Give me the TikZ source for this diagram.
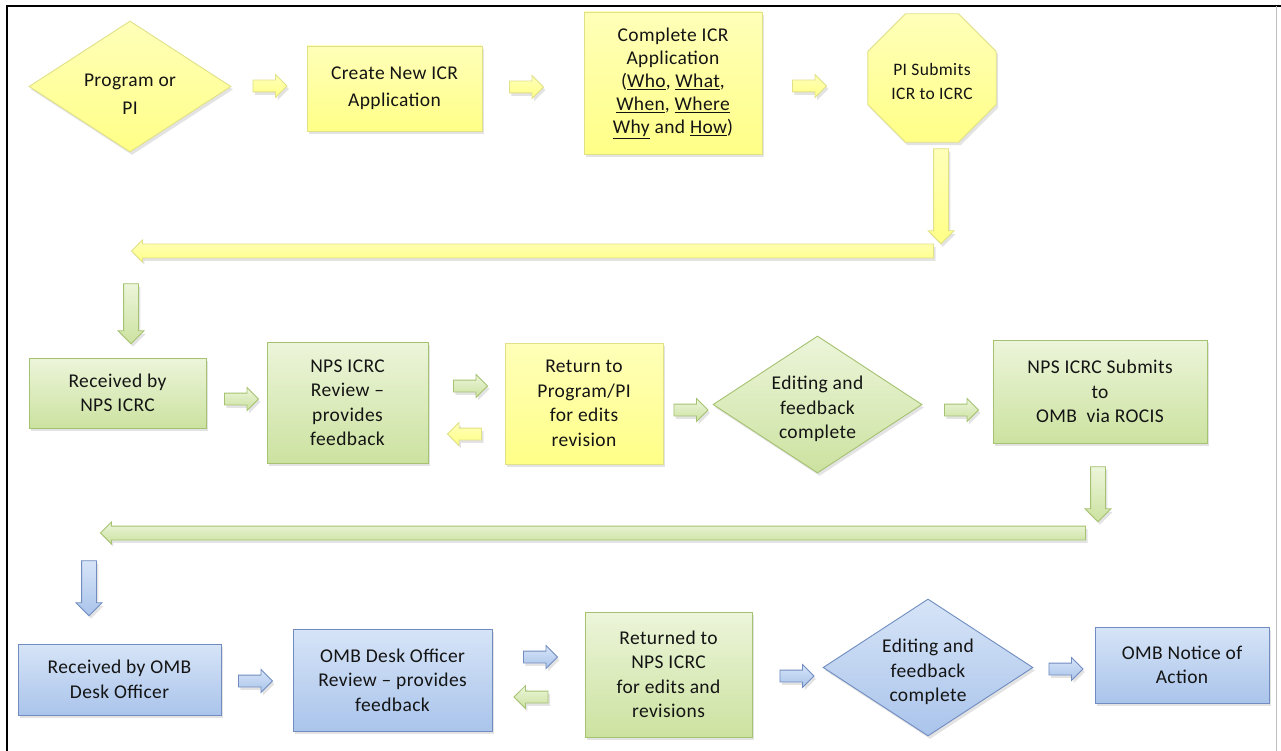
\documentclass[tikz,border=0pt]{standalone}
\usepackage{fontspec}
\setmainfont{Carlito}[LetterSpace=2]
\usetikzlibrary{shapes.geometric,shapes.arrows,shadows}

\definecolor{yTop}{RGB}{255,255,185}
\definecolor{yBot}{RGB}{255,255,135}
\definecolor{yLine}{RGB}{224,224,135}
\definecolor{gTop}{RGB}{236,245,218}
\definecolor{gBot}{RGB}{204,226,160}
\definecolor{gLine}{RGB}{165,194,112}
\definecolor{bTop}{RGB}{214,228,247}
\definecolor{bBot}{RGB}{170,196,235}
\definecolor{bLine}{RGB}{112,140,192}
\definecolor{txt}{RGB}{20,20,20}

\newcommand{\lowtext}[2]{\raisebox{-#1}[\height][\depth]{\begin{tabular}{@{}c@{}}#2\end{tabular}}}

\tikzset{
  shd/.style={drop shadow={shadow xshift=2pt,shadow yshift=-3pt,opacity=0.22}},
  base/.style={line width=0.9pt, shd, align=center, inner sep=0pt, text=txt,
    font=\fontsize{19.5}{24.5}\selectfont},
  yfill/.style={draw=yLine, top color=yTop, bottom color=yBot},
  gfill/.style={draw=gLine, top color=gTop, bottom color=gBot},
  bfill/.style={draw=bLine, top color=bTop, bottom color=bBot},
  ybox/.style={base, yfill, rectangle},
  gbox/.style={base, gfill, rectangle},
  bbox/.style={base, bfill, rectangle},
  ydia/.style={base, yfill, diamond, aspect=1.5},
  gdia/.style={base, gfill, diamond, aspect=1.5},
  bdia/.style={base, bfill, diamond, aspect=1.5},
  arr/.style={single arrow, single arrow head indent=0pt,
    line width=0.8pt, shd},
  harr/.style={arr, inner xsep=0pt, inner ysep=5.5pt, single arrow head extend=5.5pt, minimum height=34pt},
  larr/.style={harr, shape border rotate=180},
  darr/.style={arr, inner ysep=0pt, inner xsep=7pt, single arrow head extend=5.5pt, shape border rotate=270},
  longarr/.style={arr, inner xsep=0pt, inner ysep=6.5pt, single arrow head extend=4pt, shape border rotate=180},
}

\begin{document}
\begin{tikzpicture}[x=1pt,y=-1pt]
\useasboundingbox (0,0) rectangle (1281,751);
\fill[white] (0,0) rectangle (1281,751);
% frame
\draw[line width=2pt] (7,751) -- (7,6) -- (1281,6);
\draw[black!25, line width=1pt] (1276,6) -- (1276,751);

% ---------- row 1 ----------
\node[ydia, minimum width=202pt, minimum height=131pt] (prog) at (130,86.5) {\lowtext{9pt}{Program or\\[3pt]PI}};
\node[ybox, minimum width=175pt, minimum height=85pt, font=\fontsize{19.5}{27}\selectfont] (create) at (394.5,88.5) {Create New ICR\\Application};
\node[ybox, minimum width=178pt, minimum height=142pt, font=\fontsize{19.5}{23}\selectfont] (complete) at (673,83)
  {Complete ICR\\Application\\(\underline{Who}, \underline{What},\\\underline{When}, \underline{Where}\\\underline{Why} and \underline{How})};
\node[base, yfill, regular polygon, regular polygon sides=8, minimum size=139pt,
  font=\fontsize{17.5}{24}\selectfont] (pisub) at (932,78) {\lowtext{5pt}{PI Submits\\ICR to ICRC}};

\node[harr, yfill] (a1) at (267,86) {};
\node[harr, yfill] (a2) at (523.5,87) {};
\node[harr, yfill] (a3) at (806.5,86) {};
\node[darr, yfill, minimum height=95pt] (d1) at (941,192.5) {};
\node[longarr, yfill, minimum height=802pt] (l1) at (536,251) {};

% ---------- row 2 ----------
\node[darr, gfill, minimum height=60pt] (d2) at (131,310) {};
\node[gbox, minimum width=177pt, minimum height=70pt] (recv) at (117.5,393) {Received by\\NPS ICRC};
\node[gbox, minimum width=161pt, minimum height=121pt] (review) at (347.5,402.5) {NPS ICRC\\Review --\\provides\\feedback};
\node[ybox, minimum width=158pt, minimum height=121pt] (ret) at (584,403.5) {Return to\\Program/PI\\for edits\\revision};
\node[gdia, minimum width=209pt, minimum height=137pt] (edit1) at (817.5,404.5) {\lowtext{5pt}{Editing and\\feedback\\complete}};
\node[gbox, minimum width=214pt, minimum height=103pt] (nsub) at (1100,391.5) {NPS ICRC Submits\\to\\OMB\ \ via ROCIS};

\node[harr, gfill] (a4) at (238.5,399) {};
\node[harr, gfill] (a5) at (467.5,386) {};
\node[larr, yfill] (a6) at (467.5,434) {};
\node[harr, gfill] (a7) at (688,410) {};
\node[harr, gfill] (a8) at (958.5,410) {};
\node[darr, gfill, minimum height=55pt] (d3) at (1098,490.5) {};
\node[longarr, gfill, minimum height=985pt] (l2) at (596.5,533) {};

% ---------- row 3 ----------
\node[darr, bfill, minimum height=55pt] (d4) at (89,584.5) {};
\node[bbox, minimum width=203pt, minimum height=71pt] (romb) at (119.5,679.5) {Received by OMB\\Desk Officer};
\node[bbox, minimum width=199pt, minimum height=102pt] (ombrev) at (392.5,680) {OMB Desk Officer\\Review -- provides\\feedback};
\node[gbox, minimum width=167pt, minimum height=125pt] (retd) at (668.5,674.5) {Returned to\\NPS ICRC\\for edits and\\revisions};
\node[bdia, minimum width=210pt, minimum height=137pt] (edit2) at (928,667.5) {\lowtext{5pt}{Editing and\\feedback\\complete}};
\node[bbox, minimum width=174pt, minimum height=76pt] (notice) at (1182,665) {OMB Notice of\\Action};

\node[harr, bfill] (a9) at (252.5,681) {};
\node[harr, bfill] (a10) at (537.5,657) {};
\node[larr, gfill] (a11) at (534,697) {};
\node[harr, bfill] (a12) at (794,676) {};
\node[harr, bfill] (a13) at (1063,669) {};
\end{tikzpicture}
\end{document}
